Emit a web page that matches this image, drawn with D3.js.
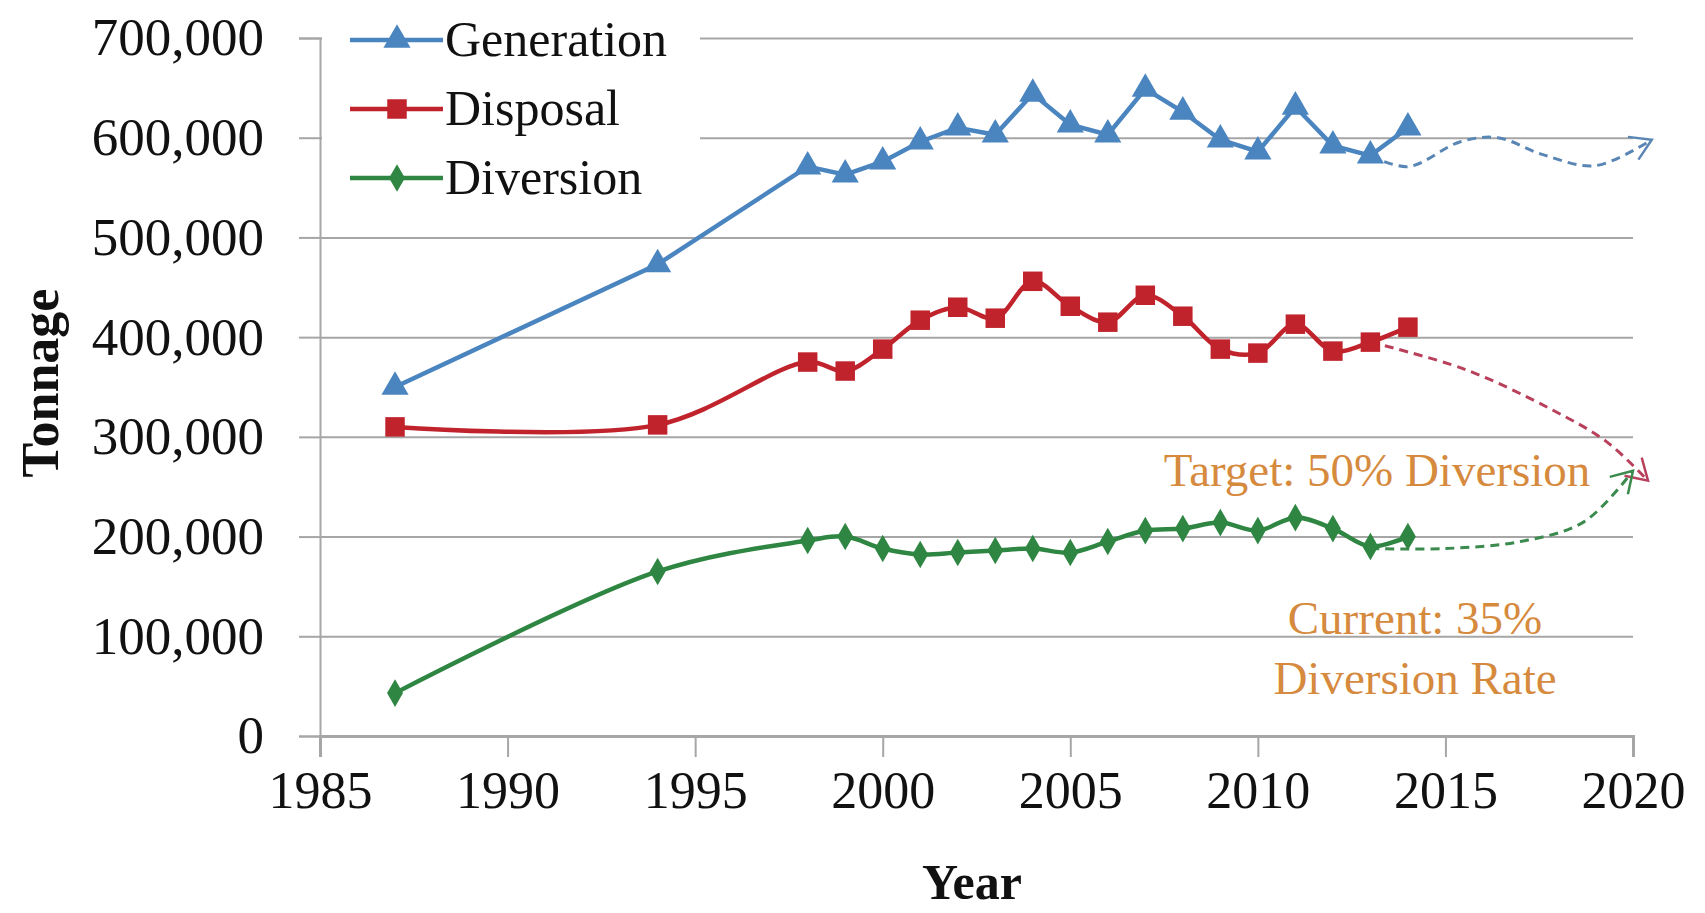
<!DOCTYPE html>
<meta charset="utf-8">
<style>
body { margin: 0; background: #fff; }
text { font-family: "Liberation Serif", serif; }
</style>
<script src="https://cdnjs.cloudflare.com/ajax/libs/d3/7.8.5/d3.min.js"></script>
<body></body>
<script>

var width = 1705;
var height = 913;

var years = [1987, 1994, 1998, 1999, 2000, 2001, 2002, 2003, 2004, 2005, 2006, 2007, 2008, 2009, 2010, 2011, 2012, 2013, 2014];
var generation = [350000, 473000, 571000, 563000, 576000, 596000, 610000, 603000, 644000, 613000, 603000, 649000, 626000, 598000, 586000, 631000, 592000, 582000, 610000];
var disposal = [310000, 312000, 375000, 366000, 388000, 417000, 430000, 419000, 456000, 431000, 415000, 442000, 421000, 388000, 384000, 413000, 386000, 395000, 410000];
var diversion = [43000, 165000, 196000, 200000, 188000, 182000, 184000, 186000, 188000, 184000, 195000, 206000, 208000, 214000, 206000, 219000, 208000, 190000, 200000];

// hand-drawn projection arrows (year, tonnage)
var genProjection = [[2013, 582000], [2014, 571000], [2015.4, 596000], [2016.4, 600000], [2017.6, 583000], [2019, 572000], [2020.5, 598000]];
var dispProjection = [[2013, 395000], [2015.5, 368000], [2017.8, 328000], [2019.3, 295000], [2020.4, 256000]];
var divProjection = [[2013, 188000], [2015, 188000], [2017, 195000], [2018.7, 215000], [2020, 266000]];

var yTicks = [0, 100000, 200000, 300000, 400000, 500000, 600000, 700000];
var xTicks = [1985, 1990, 1995, 2000, 2005, 2010, 2015, 2020];

var colors = { gen: '#4a85c0', disp: '#c0232c', div: '#2e8642', note: '#d68a3e', grid: '#a6a6a6' };

var margin = { left: 320, right: 72, top: 38, bottom: 177 };

var x = d3.scaleLinear().domain([1985, 2020]).range([margin.left, width - margin.right]);
var y = d3.scaleLinear().domain([0, 700000]).range([height - margin.bottom, margin.top]);

var svg = d3.select('body').append('svg')
	.attr('width', width)
	.attr('height', height);

// gridlines
svg.append('g')
	.attr('transform', 'translate(' + margin.left + ',0)')
	.call(d3.axisLeft(y).tickValues(yTicks).tickSize(-(width - margin.right - margin.left)).tickFormat(''))
	.call(g => g.select('.domain').remove())
	.call(g => g.selectAll('line').attr('stroke', colors.grid).attr('stroke-width', 2));

// y axis with outside ticks and labels
svg.append('g')
	.attr('transform', 'translate(' + margin.left + ',0)')
	.call(d3.axisLeft(y).tickValues(yTicks).tickSize(21).tickPadding(35).tickFormat(d3.format(',')))
	.call(g => g.select('.domain').attr('stroke', colors.grid).attr('stroke-width', 2))
	.call(g => g.selectAll('line').attr('stroke', colors.grid).attr('stroke-width', 2))
	.call(g => g.selectAll('text').attr('font-family', 'Liberation Serif').attr('font-size', 53).attr('fill', '#111'));

// x axis
svg.append('g')
	.attr('transform', 'translate(0,' + y(0) + ')')
	.call(d3.axisBottom(x).tickValues(xTicks).tickSize(21).tickPadding(14).tickFormat(d3.format('d')))
	.call(g => g.select('.domain').attr('stroke', colors.grid).attr('stroke-width', 3))
	.call(g => g.selectAll('line').attr('stroke', colors.grid).attr('stroke-width', 2))
	.call(g => g.selectAll('text').attr('font-family', 'Liberation Serif').attr('font-size', 52).attr('fill', '#111'));

// axis titles
svg.append('text')
	.attr('transform', 'translate(58,383) rotate(-90)')
	.attr('text-anchor', 'middle')
	.attr('font-size', 52)
	.attr('font-weight', 'bold')
	.attr('fill', '#111')
	.text('Tonnage');

svg.append('text')
	.attr('x', 972)
	.attr('y', 899)
	.attr('text-anchor', 'middle')
	.attr('font-size', 50)
	.attr('font-weight', 'bold')
	.attr('fill', '#111')
	.text('Year');

// projections (dashed)
var proj = d3.line().x(d => x(d[0])).y(d => y(d[1])).curve(d3.curveCatmullRom.alpha(0.5));

function arrowHead(pts, color) {
	var a = pts[pts.length - 1], b = pts[pts.length - 2];
	var ax = x(a[0]), ay = y(a[1]), bx = x(b[0]), by = y(b[1]);
	var ang = Math.atan2(ay - by, ax - bx);
	var len = 24, spread = 0.55;
	svg.append('path')
		.attr('d', 'M' + (ax - len * Math.cos(ang - spread)) + ',' + (ay - len * Math.sin(ang - spread)) +
			'L' + ax + ',' + ay +
			'L' + (ax - len * Math.cos(ang + spread)) + ',' + (ay - len * Math.sin(ang + spread)))
		.attr('fill', 'none')
		.attr('stroke', color)
		.attr('stroke-width', 2.5);
}

[[genProjection, '#5a86b5'], [dispProjection, '#b8405a'], [divProjection, '#3b8a4e']].forEach(function (p) {
	svg.append('path')
		.attr('d', proj(p[0]))
		.attr('fill', 'none')
		.attr('stroke', p[1])
		.attr('stroke-width', 3)
		.attr('stroke-dasharray', '9,6');
	arrowHead(p[0], p[1]);
});

// series lines
var series = [
	{ name: 'Generation', values: generation, color: colors.gen, shape: d3.symbolTriangle, size: 320, curve: d3.curveLinear },
	{ name: 'Disposal', values: disposal, color: colors.disp, shape: d3.symbolSquare, size: 380, curve: d3.curveCatmullRom.alpha(0.5) },
	{ name: 'Diversion', values: diversion, color: colors.div, shape: d3.symbolDiamond, size: 220, curve: d3.curveCatmullRom.alpha(0.5) }
];

series.forEach(function (s) {
	var line = d3.line().x((d, i) => x(years[i])).y(d => y(d)).curve(s.curve);
	svg.append('path')
		.attr('d', line(s.values))
		.attr('fill', 'none')
		.attr('stroke', s.color)
		.attr('stroke-width', 4.5);
	svg.append('g').selectAll('path')
		.data(s.values)
		.join('path')
		.attr('transform', (d, i) => 'translate(' + x(years[i]) + ',' + y(d) + ')')
		.attr('d', d3.symbol().type(s.shape).size(s.size))
		.attr('fill', s.color);
});

// annotations
svg.append('text')
	.attr('x', 1377).attr('y', 486)
	.attr('text-anchor', 'middle')
	.attr('font-size', 47)
	.attr('fill', colors.note)
	.text('Target: 50% Diversion');
svg.append('text')
	.attr('x', 1415).attr('y', 634)
	.attr('text-anchor', 'middle')
	.attr('font-size', 47)
	.attr('fill', colors.note)
	.text('Current: 35%');
svg.append('text')
	.attr('x', 1415).attr('y', 694)
	.attr('text-anchor', 'middle')
	.attr('font-size', 47)
	.attr('fill', colors.note)
	.text('Diversion Rate');

// legend (white box hides gridlines behind it)
var legend = svg.append('g');
legend.append('rect')
	.attr('x', margin.left + 2).attr('y', 0)
	.attr('width', 378).attr('height', 200)
	.attr('fill', '#fff');
series.forEach(function (s, i) {
	var ly = 40 + i * 69;
	legend.append('line')
		.attr('x1', 350).attr('x2', 443)
		.attr('y1', ly).attr('y2', ly)
		.attr('stroke', s.color)
		.attr('stroke-width', 4.5);
	legend.append('path')
		.attr('transform', 'translate(397,' + ly + ')')
		.attr('d', d3.symbol().type(s.shape).size(s.size))
		.attr('fill', s.color);
	legend.append('text')
		.attr('x', 445).attr('y', ly + 16)
		.attr('font-size', 50)
		.attr('fill', '#111')
		.text(s.name);
});

</script>
